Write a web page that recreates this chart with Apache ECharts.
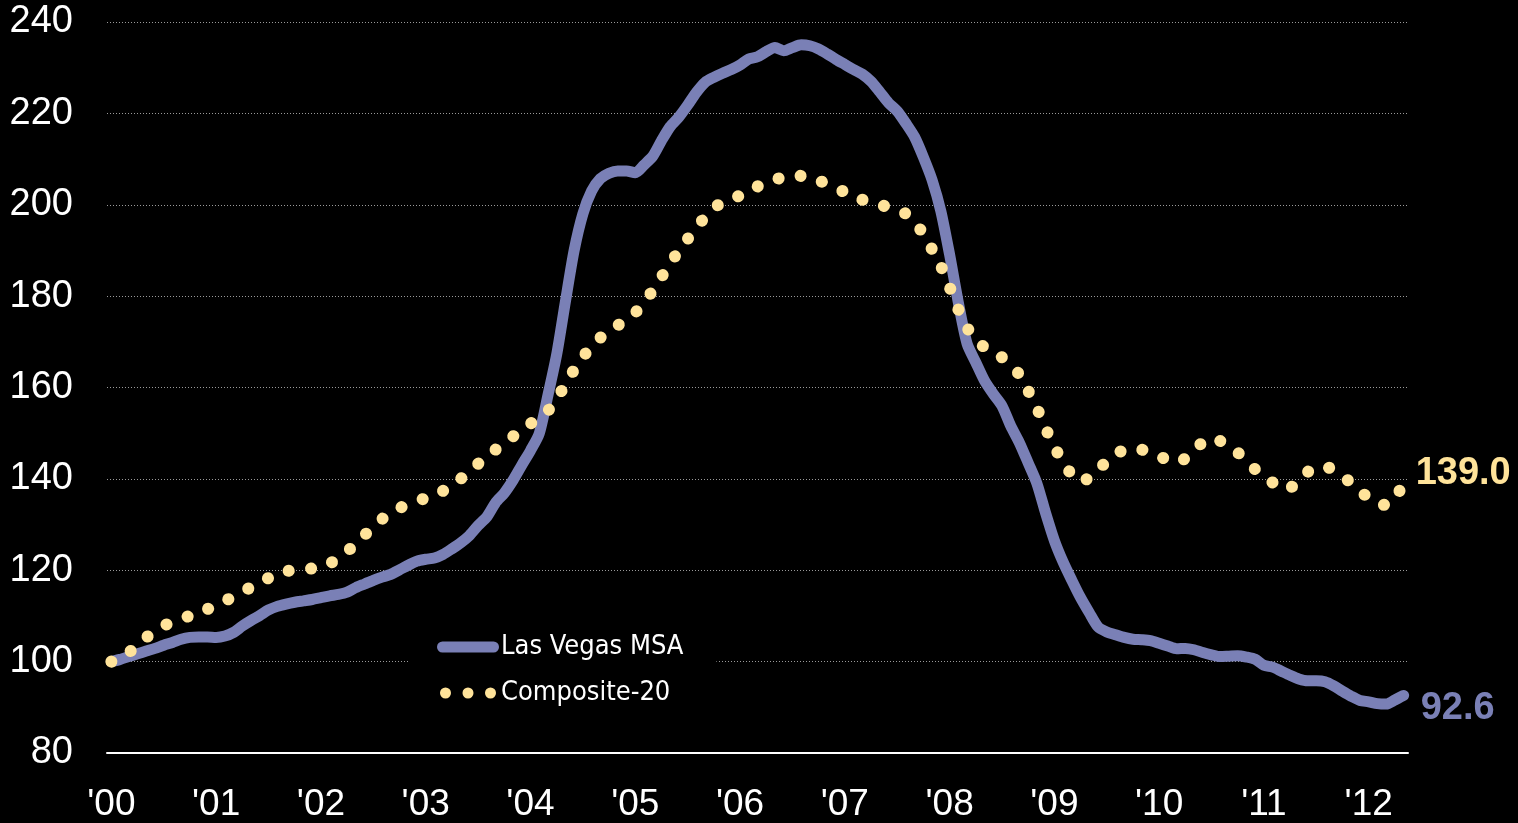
<!DOCTYPE html>
<html>
<head>
<meta charset="utf-8">
<script src="https://cdn.jsdelivr.net/npm/echarts@6/dist/echarts.min.js"></script>
<style>
  html, body { margin: 0; padding: 0; background: #000; }
  #chart { width: 1518px; height: 823px; }
</style>
</head>
<body>
<div id="chart"></div>
<script>
// Monthly index, January 2000 = 100, Jan 2000 – May 2012
const months = [];
for (let y = 2000; y <= 2012; y++) {
  for (let m = 1; m <= 12; m++) {
    if (y === 2012 && m > 5) break;
    months.push(y + '-' + String(m).padStart(2, '0'));
  }
}

const yearTicks = ["'00", "'01", "'02", "'03", "'04", "'05", "'06", "'07", "'08", "'09", "'10", "'11", "'12"];

const lasVegas = [
  100.0, 100.5, 101.1, 101.7, 102.3, 102.9, 103.6, 104.2, 104.9, 105.3,
  105.4, 105.4, 105.3, 105.6, 106.4, 107.8, 109.0, 110.1, 111.3, 112.1,
  112.6, 113.0, 113.3, 113.6, 114.0, 114.4, 114.7, 115.2, 116.2, 117.0,
  117.8, 118.5, 119.1, 120.1, 121.1, 122.0, 122.4, 122.7, 123.5, 124.7,
  126.0, 127.6, 129.8, 131.7, 134.8, 136.9, 139.7, 143.0, 146.2, 149.9,
  158.3, 167.2, 178.8, 190.0, 198.0, 203.0, 205.7, 206.9, 207.4, 207.4,
  207.0, 208.7, 210.6, 214.0, 217.1, 219.2, 221.8, 224.6, 226.8, 227.9,
  228.8, 229.6, 230.6, 231.9, 232.4, 233.5, 234.4, 233.7, 234.4, 235.0,
  234.8, 234.1, 233.0, 231.8, 230.7, 229.6, 228.6, 227.0, 224.7, 222.3,
  220.5, 217.8, 214.8, 210.4, 205.4, 198.6, 189.1, 178.6, 169.6, 165.5,
  161.5, 158.6, 156.0, 151.6, 147.9, 143.5, 139.0, 132.5, 126.5, 121.8,
  117.8, 114.0, 110.7, 107.6, 106.5, 105.9, 105.3, 104.9, 104.8, 104.6,
  104.0, 103.4, 102.8, 102.9, 102.6, 102.0, 101.5, 101.1, 101.2, 101.3,
  101.0, 100.5, 99.2, 98.8, 97.9, 97.0, 96.2, 95.8, 95.8, 95.6,
  94.7, 93.5, 92.4, 91.5, 91.2, 90.8, 90.7, 91.6, 92.6
];

const composite20 = [
  100.0, 101.0, 102.0, 103.7, 105.3, 106.6, 107.8, 108.8, 109.5, 110.0,
  110.7, 111.5, 112.4, 113.3, 114.2, 115.3, 116.3, 117.3, 118.3, 119.0,
  119.7, 120.2, 120.3, 120.4, 120.9, 121.5, 122.6, 124.1, 125.8, 127.7,
  129.5, 131.2, 132.6, 133.6, 134.5, 135.3, 135.7, 136.4, 137.4, 138.7,
  140.0, 141.6, 143.3, 145.0, 146.4, 147.8, 149.3, 150.7, 152.1, 153.2,
  154.9, 157.5, 160.7, 163.9, 166.6, 169.2, 170.9, 172.3, 173.6, 174.9,
  176.4, 178.5, 181.3, 184.2, 187.1, 190.0, 192.5, 195.0, 197.3, 199.1,
  200.7, 201.4, 202.0, 203.0, 204.0, 204.7, 205.4, 206.2, 206.5, 206.3,
  205.9, 205.3, 204.6, 203.8, 202.7, 201.7, 201.1, 200.6, 200.0, 199.5,
  199.0, 198.0, 196.0, 193.7, 190.2, 186.6, 182.0, 177.1, 173.2, 170.0,
  168.9, 168.0, 166.6, 164.9, 162.8, 159.3, 155.5, 151.1, 147.0, 143.7,
  140.9, 139.3, 140.3, 141.8, 144.0, 145.6, 146.2, 146.5, 146.4, 145.8,
  145.0, 144.1, 143.5, 144.5, 146.3, 148.0, 148.9, 148.3, 147.0, 145.8,
  143.6, 142.1, 140.7, 139.2, 137.8, 138.0, 139.8, 141.5, 142.6, 142.7,
  141.9, 140.6, 139.1, 137.5, 135.7, 134.5, 134.3, 135.8, 139.0
];

const PURPLE = '#7a80b6';
const YELLOW = '#ffe39a';
const NUM_FONT = '"Liberation Sans", Arial, sans-serif';
const NARROW_FONT = '"Liberation Sans Narrow", "DejaVu Sans Condensed", sans-serif';

// legend glyphs: a rounded bar and a row of three dots
const PILL_ICON = 'path://M5.5,0 L56.5,0 A5.5,5.5 0 0 1 56.5,11 L5.5,11 A5.5,5.5 0 0 1 5.5,0 Z';
function dot(cx) {
  return 'M' + (cx - 5.5) + ',5.5 A5.5,5.5 0 1 0 ' + (cx + 5.5) + ',5.5 A5.5,5.5 0 1 0 ' + (cx - 5.5) + ',5.5 Z ';
}
const DOTS_ICON = 'path://' + dot(5.5) + dot(28) + dot(50.5);

const chart = echarts.init(document.getElementById('chart'), null, { renderer: 'canvas' });

chart.setOption({
  backgroundColor: '#000',
  animation: false,
  grid: { left: 107, right: 110, top: 22, bottom: 67, containLabel: false },
  legend: {
    orient: 'vertical',
    left: 408,
    top: 622,
    padding: [10, 33, 10, 29],
    backgroundColor: '#000',
    itemWidth: 62,
    itemHeight: 11,
    itemGap: 16,
    selectedMode: false,
    itemStyle: { borderWidth: 0 },
    textStyle: { color: '#fff', fontSize: 27, lineHeight: 30, fontFamily: NARROW_FONT, padding: [0, 0, 0, -3] },
    data: [
      { name: 'Las Vegas MSA', icon: PILL_ICON, itemStyle: { color: PURPLE, borderWidth: 0 } },
      { name: 'Composite-20', icon: DOTS_ICON, itemStyle: { color: YELLOW, borderWidth: 0 } }
    ]
  },
  xAxis: {
    type: 'category',
    data: months,
    boundaryGap: true,
    axisLine: { show: true, onZero: false, lineStyle: { color: '#fff', width: 2 } },
    axisTick: { show: false },
    splitLine: { show: false },
    axisLabel: {
      interval: (index) => index % 12 === 0,
      formatter: (value, index) => yearTicks[Math.floor(index / 12)],
      color: '#fff',
      fontSize: 37,
      fontFamily: NUM_FONT,
      margin: 33
    }
  },
  yAxis: {
    type: 'value',
    min: 80,
    max: 240,
    interval: 20,
    axisLine: { show: false },
    axisTick: { show: false },
    splitLine: { show: true, lineStyle: { color: '#9a9a9a', width: 1, type: [1, 2] } },
    axisLabel: {
      color: '#fff',
      fontSize: 38,
      fontFamily: NUM_FONT,
      margin: 34
    }
  },
  series: [
    {
      name: 'Las Vegas MSA',
      type: 'line',
      data: lasVegas,
      smooth: 0.25,
      showSymbol: false,
      symbol: 'none',
      itemStyle: { color: PURPLE },
      lineStyle: { color: PURPLE, width: 11, cap: 'round', join: 'round' },
      endLabel: {
        show: true,
        formatter: (p) => Number(p.value).toFixed(1),
        color: PURPLE,
        fontSize: 38,
        fontWeight: 'bold',
        fontFamily: NUM_FONT,
        distance: 17,
        offset: [0, 13]
      },
      z: 2
    },
    {
      name: 'Composite-20',
      type: 'line',
      data: composite20,
      smooth: 0.25,
      showSymbol: false,
      symbol: 'none',
      itemStyle: { color: YELLOW },
      lineStyle: { color: YELLOW, width: 12, type: [0.1, 22.2], cap: 'round', join: 'round' },
      endLabel: {
        show: true,
        formatter: (p) => Number(p.value).toFixed(1),
        color: YELLOW,
        fontSize: 38,
        fontWeight: 'bold',
        fontFamily: NUM_FONT,
        distance: 12,
        offset: [0, -10]
      },
      z: 3
    }
  ]
});
</script>
</body>
</html>
